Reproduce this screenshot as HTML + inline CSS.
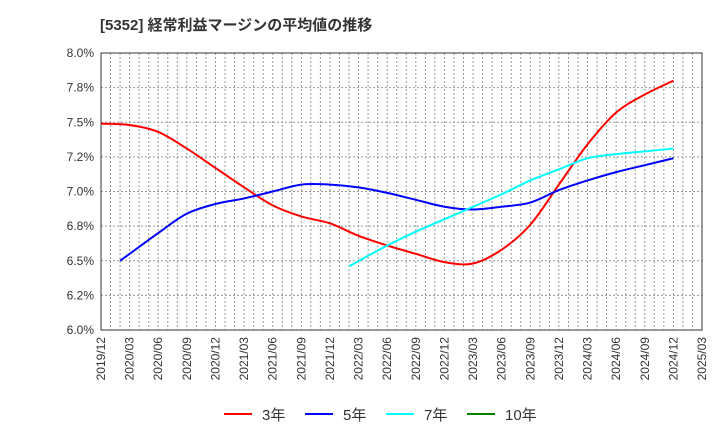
<!DOCTYPE html>
<html><head><meta charset="utf-8"><style>
body{margin:0;background:#fff;font-family:"Liberation Sans","Noto Sans CJK JP",sans-serif}
</style></head><body>
<svg id="c" width="720" height="440" xmlns="http://www.w3.org/2000/svg">
<text x="100" y="30" font-size="15" font-weight="bold" fill="#333">[5352]  経常利益マージンの平均値の推移</text>
<g id="grid"></g><g id="axes"></g><g id="series"></g><g id="legend"></g>
</svg>
<script>
const xLabels=["2019/12","2020/03","2020/06","2020/09","2020/12","2021/03","2021/06","2021/09","2021/12","2022/03","2022/06","2022/09","2022/12","2023/03","2023/06","2023/09","2023/12","2024/03","2024/06","2024/09","2024/12","2025/03"];
const yTicks=[6.0,6.25,6.5,6.75,7.0,7.25,7.5,7.75,8.0];
const yTickLabels=["6.0%","6.2%","6.5%","6.8%","7.0%","7.2%","7.5%","7.8%","8.0%"];
const months3=[0,3,6,9,12,15,18,21,24,27,30,33,36,39,42,45,48,51,54,57,60];
const vals3=[7.49,7.48,7.43,7.31,7.17,7.03,6.90,6.82,6.77,6.68,6.61,6.55,6.49,6.48,6.58,6.76,7.05,7.34,7.57,7.70,7.80];
const months5=[2,3,6,9,12,15,18,21,24,27,30,33,36,39,42,45,48,51,54,57,60];
const vals5=[6.50,6.55,6.70,6.84,6.91,6.95,7.00,7.05,7.05,7.03,6.99,6.94,6.89,6.87,6.89,6.92,7.01,7.08,7.14,7.19,7.24];
const months7=[26,30,33,36,39,42,45,48,51,54,57,60];
const vals7=[6.46,6.61,6.71,6.80,6.89,6.98,7.08,7.16,7.24,7.27,7.29,7.31];
const NS="http://www.w3.org/2000/svg";
const L=101,R=702,T=53,B=330;
const x=m=>L+(R-L)*m/63;
const y=v=>B-(v-6)/2*(B-T);
function mk(t,a,p){const e=document.createElementNS(NS,t);for(const k in a)e.setAttribute(k,a[k]);p.appendChild(e);return e;}
const g=document.getElementById('grid'),ax=document.getElementById('axes'),s=document.getElementById('series'),lg=document.getElementById('legend');
for(let m=1;m<63;m++){const l=mk('line',{x1:x(m),x2:x(m),y1:T,y2:B,stroke:'#999','stroke-dasharray':'2,2','stroke-width':1},g);

}
yTicks.forEach((v,i)=>{if(i>0&&i<yTicks.length-1){const l=mk('line',{x1:L,x2:R,y1:y(v),y2:y(v),stroke:'#999','stroke-dasharray':'2,2'},g);

}
const t=mk('text',{x:L-7,y:y(v)+4,'text-anchor':'end','font-size':12,fill:'#333'},ax);t.textContent=yTickLabels[i];

});
const fr=mk('rect',{x:L,y:T,width:R-L,height:B-T,fill:'none',stroke:'#333','stroke-width':1},ax);


xLabels.forEach((lb,i)=>{const xx=x(i*3)+4;const t=mk('text',{x:xx,y:B+7,transform:`rotate(-90 ${xx} ${B+7})`,'text-anchor':'end','font-size':12,fill:'#333'},ax);t.textContent=lb;

});
function path(ms,vs){const p=ms.map((m,i)=>[x(m),y(vs[i])]);let d=`M${p[0][0]},${p[0][1]}`;
for(let i=0;i<p.length-1;i++){const p0=p[Math.max(0,i-1)],p1=p[i],p2=p[i+1],p3=p[Math.min(p.length-1,i+2)];
d+=` C${p1[0]+(p2[0]-p0[0])/6},${p1[1]+(p2[1]-p0[1])/6} ${p2[0]-(p3[0]-p1[0])/6},${p2[1]-(p3[1]-p1[1])/6} ${p2[0]},${p2[1]}`;}return d;}
[[months3,vals3,'#ff0000','line-3yr'],[months5,vals5,'#0000ff','line-5yr'],[months7,vals7,'#00ffff','line-7yr']].forEach(([m,v,c,n])=>{
const e=mk('path',{d:path(m,v),fill:'none',stroke:c,'stroke-width':2},s);

});
[['3年','#ff0000',224],['5年','#0000ff',305],['7年','#00ffff',386],['10年','#008000',467]].forEach(([lb,c,lx])=>{
const l=mk('line',{x1:lx,x2:lx+28,y1:414,y2:414,stroke:c,'stroke-width':2},lg);


const t=mk('text',{x:lx+38,y:420,'font-size':15,fill:'#333'},lg);t.textContent=lb;

});
</script>
</body></html>
